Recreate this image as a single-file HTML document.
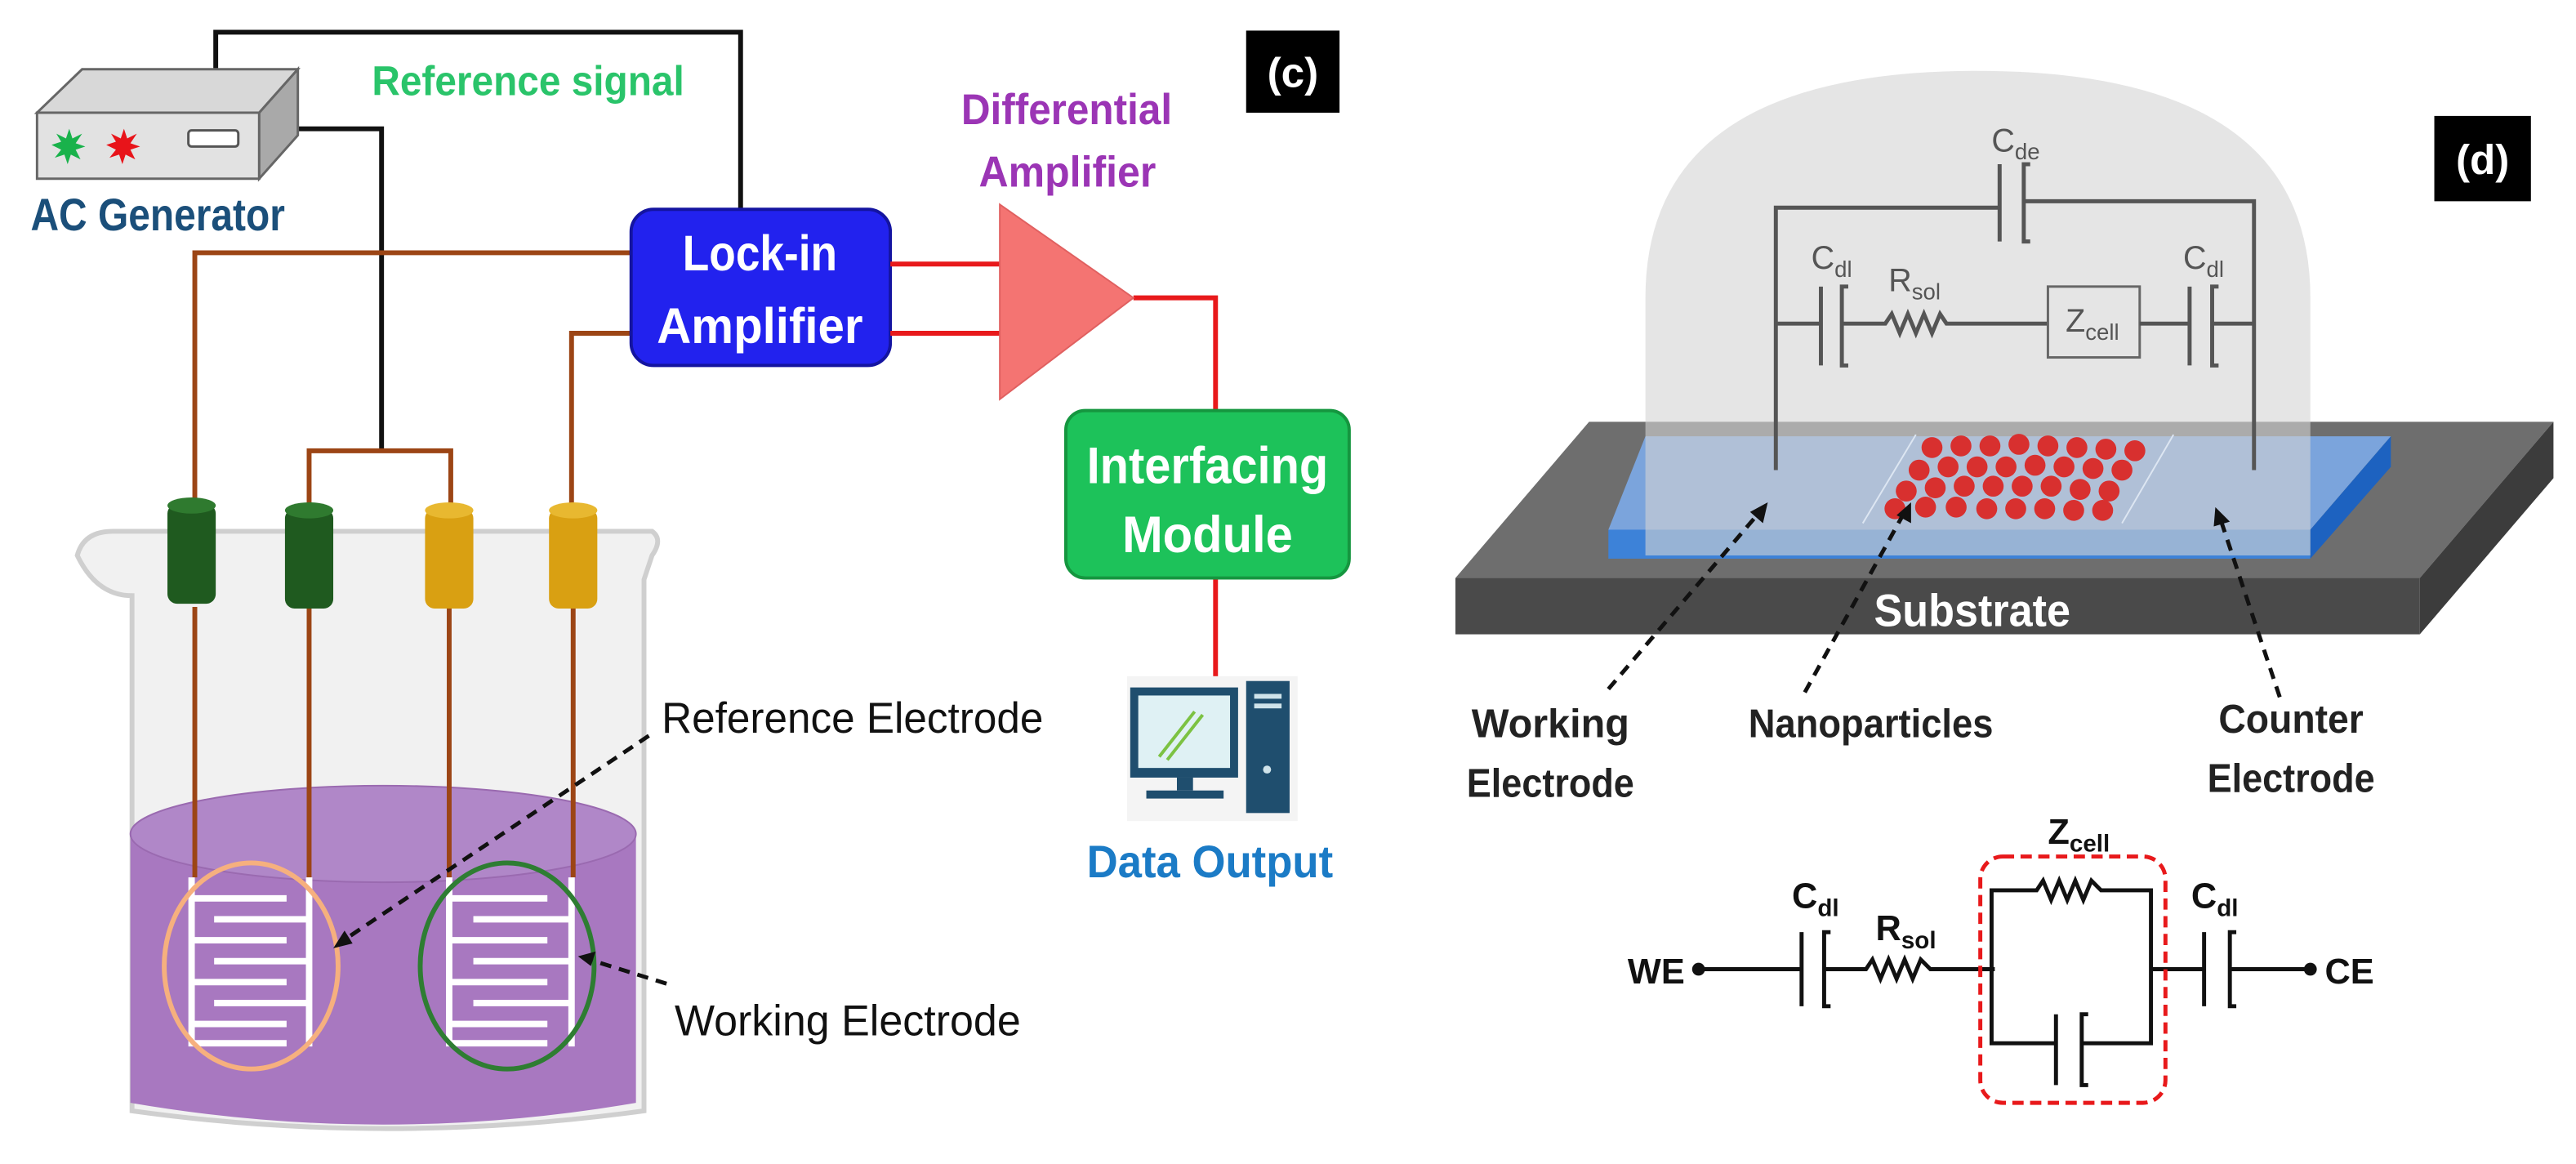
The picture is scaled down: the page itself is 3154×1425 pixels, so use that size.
<!DOCTYPE html>
<html><head><meta charset="utf-8"><style>
html,body{margin:0;padding:0;background:#fff}
svg{display:block}
text{font-family:"Liberation Sans",sans-serif}
</style></head><body>
<svg width="3154" height="1425" viewBox="0 0 1600 723" preserveAspectRatio="none" xmlns="http://www.w3.org/2000/svg">
<rect width="1600" height="723" fill="#fff"/>
<!-- ===== Panel (c) ===== -->
<path d="M48,345 Q52,330 70,330 L405,330 Q412,335 405,345 L400,360 L400,690 Q240,712 82,690 L82,370 Q60,370 48,345Z" fill="#f1f1f1" stroke="#cfcfcf" stroke-width="3"/>
<path d="M81,518 L81,685 Q238,712 395,685 L395,518Z" fill="#a878c0"/>
<ellipse cx="238" cy="518" rx="157" ry="30" fill="#b087c8" stroke="#9a6ab0" stroke-width="1"/>
<g fill="none" stroke-width="3">
<polyline points="134,44 134,20 460,20 460,130" stroke="#111"/>
<polyline points="185,80 237,80 237,280" stroke="#111"/>
<polyline points="392,157 121,157 121,311" stroke="#9c4515"/>
<polyline points="392,207 355,207 355,314" stroke="#9c4515"/>
<polyline points="192,314 192,280 280,280 280,314" stroke="#9c4515"/>
<line x1="121" y1="377" x2="121" y2="545" stroke="#9c4515"/>
<line x1="192" y1="377" x2="192" y2="545" stroke="#9c4515"/>
<line x1="279" y1="377" x2="279" y2="545" stroke="#9c4515"/>
<line x1="356" y1="377" x2="356" y2="545" stroke="#9c4515"/>
</g>
<g>
<rect x="104" y="313" width="30" height="62" rx="6" fill="#1f5a1f"/><ellipse cx="119" cy="314" rx="15" ry="5" fill="#2f7a2f"/>
<rect x="177" y="316" width="30" height="62" rx="6" fill="#1f5a1f"/><ellipse cx="192" cy="317" rx="15" ry="5" fill="#2f7a2f"/>
<rect x="264" y="316" width="30" height="62" rx="6" fill="#d9a012"/><ellipse cx="279" cy="317" rx="15" ry="5" fill="#e8b830"/>
<rect x="341" y="316" width="30" height="62" rx="6" fill="#d9a012"/><ellipse cx="356" cy="317" rx="15" ry="5" fill="#e8b830"/>
</g>
<g fill="none" stroke="#fff" stroke-width="4">
<path d="M119,545 L119,650 M192,545 L192,650 M119,558 H178 M119,584 H178 M119,610 H178 M119,636 H178 M133,571 H192 M133,597 H192 M133,623 H192 M119,648 H178"/>
<path d="M279,545 L279,650 M355,545 L355,650 M279,558 H340 M279,584 H340 M279,610 H340 M279,636 H340 M294,571 H355 M294,597 H355 M294,623 H355 M279,648 H340"/>
</g>
<ellipse cx="156" cy="600" rx="54" ry="64" fill="none" stroke="#f6b07e" stroke-width="3"/>
<ellipse cx="315" cy="600" rx="54" ry="64" fill="none" stroke="#2e7d32" stroke-width="3"/>
<g stroke="#111" stroke-width="2.5" stroke-dasharray="7,5" fill="none">
<line x1="403" y1="457" x2="212" y2="585"/>
<line x1="414" y1="611" x2="366" y2="596"/>
</g>
<polygon points="207,589 214,578 219,586" fill="#111"/>
<polygon points="359,594 370,591 367,600" fill="#111"/>
<text x="411" y="455" font-size="27" fill="#111" textLength="237" lengthAdjust="spacingAndGlyphs">Reference Electrode</text>
<text x="419" y="643" font-size="27" fill="#111" textLength="215" lengthAdjust="spacingAndGlyphs">Working Electrode</text>
<polygon points="23,70 51,43 185,43 161,70" fill="#d8d8d8" stroke="#666" stroke-width="1.5"/>
<rect x="23" y="70" width="138" height="41" fill="#e2e2e2" stroke="#666" stroke-width="1.5"/>
<polygon points="161,70 185,43 185,84 161,111" fill="#a9a9a9" stroke="#666" stroke-width="1.5"/>
<polygon points="43,80 45,86 51,83 47,89 53,91 47,93 50,99 44,96 42,102 40,96 34,98 38,93 32,90 38,88 35,83 41,86" fill="#19b24b"/>
<polygon points="77,80 79,86 85,83 81,89 87,91 81,93 84,99 78,96 76,102 74,96 68,98 72,93 66,90 72,88 69,83 75,86" fill="#e8141a"/>
<rect x="117" y="81" width="31" height="10" rx="2" fill="#fff" stroke="#555" stroke-width="1.5"/>
<text x="19" y="143" font-size="28" font-weight="bold" fill="#1b4f7a" textLength="158" lengthAdjust="spacingAndGlyphs">AC Generator</text>
<text x="231" y="59" font-size="26" font-weight="bold" fill="#2ac46a" textLength="194" lengthAdjust="spacingAndGlyphs">Reference signal</text>
<rect x="774" y="19" width="58" height="51" fill="#000"/>
<text x="803" y="54" font-size="26" font-weight="bold" fill="#fff" text-anchor="middle">(c)</text>
<rect x="392" y="130" width="161" height="97" rx="14" fill="#2222ee" stroke="#1414a0" stroke-width="2"/>
<text x="472" y="168" font-size="31" font-weight="bold" fill="#fff" text-anchor="middle" textLength="96" lengthAdjust="spacingAndGlyphs">Lock-in</text>
<text x="472" y="213" font-size="31" font-weight="bold" fill="#fff" text-anchor="middle" textLength="128" lengthAdjust="spacingAndGlyphs">Amplifier</text>
<g stroke="#e8191b" stroke-width="3" fill="none">
<line x1="553" y1="164" x2="621" y2="164"/>
<line x1="553" y1="207" x2="621" y2="207"/>
<polyline points="704,185 755,185 755,255"/>
<line x1="755" y1="359" x2="755" y2="425"/>
</g>
<polygon points="621,127 704,185 621,248" fill="#f47472" stroke="#e06060" stroke-width="1"/>
<text x="597" y="77" font-size="27" font-weight="bold" fill="#9b35b5" textLength="131" lengthAdjust="spacingAndGlyphs">Differential</text>
<text x="608" y="116" font-size="27" font-weight="bold" fill="#9b35b5" textLength="110" lengthAdjust="spacingAndGlyphs">Amplifier</text>
<rect x="662" y="255" width="176" height="104" rx="12" fill="#1dc25a" stroke="#15963f" stroke-width="2"/>
<text x="750" y="300" font-size="32" font-weight="bold" fill="#fff" text-anchor="middle" textLength="150" lengthAdjust="spacingAndGlyphs">Interfacing</text>
<text x="750" y="343" font-size="32" font-weight="bold" fill="#fff" text-anchor="middle" textLength="106" lengthAdjust="spacingAndGlyphs">Module</text>
<rect x="700" y="420" width="106" height="90" fill="#f4f4f4"/>
<rect x="702" y="427" width="67" height="56" fill="#1f4e6e"/>
<rect x="707" y="432" width="57" height="45" fill="#dff1f4"/>
<line x1="720" y1="470" x2="742" y2="442" stroke="#7cc242" stroke-width="2"/>
<line x1="725" y1="472" x2="747" y2="444" stroke="#7cc242" stroke-width="2"/>
<rect x="731" y="483" width="10" height="8" fill="#1f4e6e"/>
<rect x="712" y="491" width="48" height="5" fill="#1f4e6e"/>
<rect x="774" y="423" width="27" height="82" fill="#1f4e6e"/>
<rect x="779" y="431" width="17" height="3" fill="#cfe3ea"/>
<rect x="779" y="437" width="17" height="3" fill="#cfe3ea"/>
<circle cx="787" cy="478" r="2.5" fill="#cfe3ea"/>
<text x="675" y="545" font-size="28" font-weight="bold" fill="#1b7bc6" textLength="153" lengthAdjust="spacingAndGlyphs">Data Output</text>
<!-- ===== Panel (d) ===== -->
<polygon points="987,262 1586,262 1503,359 904,359" fill="#6e6e6e"/>
<rect x="904" y="359" width="599" height="35" fill="#4a4a4a"/>
<polygon points="1503,359 1586,262 1586,297 1503,394" fill="#3c3c3c"/>
<polygon points="1022,271 1485,271 1435,329 999,329" fill="#7ba4dc"/>
<rect x="999" y="329" width="436" height="18" fill="#3d82d8"/>
<polygon points="1435,329 1485,271 1485,290 1435,347" fill="#1d62c0"/>
<path d="M1022,345 L1022,185 Q1022,44 1228,44 Q1435,44 1435,185 L1435,345Z" fill="#d4d4d4" fill-opacity="0.6"/>
<line x1="1190" y1="270" x2="1157" y2="325" stroke="#dde6f2" stroke-width="1"/>
<line x1="1350" y1="270" x2="1318" y2="325" stroke="#dde6f2" stroke-width="1"/>
<g fill="#d8302f">
<circle cx="1200" cy="278" r="6.5"/><circle cx="1218" cy="277" r="6.5"/><circle cx="1236" cy="277" r="6.5"/><circle cx="1254" cy="276" r="6.5"/><circle cx="1272" cy="277" r="6.5"/><circle cx="1290" cy="278" r="6.5"/><circle cx="1308" cy="279" r="6.5"/><circle cx="1326" cy="280" r="6.5"/>
<circle cx="1192" cy="292" r="6.5"/><circle cx="1210" cy="290" r="6.5"/><circle cx="1228" cy="290" r="6.5"/><circle cx="1246" cy="290" r="6.5"/><circle cx="1264" cy="289" r="6.5"/><circle cx="1282" cy="290" r="6.5"/><circle cx="1300" cy="291" r="6.5"/><circle cx="1318" cy="292" r="6.5"/>
<circle cx="1184" cy="305" r="6.5"/><circle cx="1202" cy="303" r="6.5"/><circle cx="1220" cy="302" r="6.5"/><circle cx="1238" cy="302" r="6.5"/><circle cx="1256" cy="302" r="6.5"/><circle cx="1274" cy="302" r="6.5"/><circle cx="1292" cy="304" r="6.5"/><circle cx="1310" cy="305" r="6.5"/>
<circle cx="1177" cy="316" r="6.5"/><circle cx="1196" cy="315" r="6.5"/><circle cx="1215" cy="315" r="6.5"/><circle cx="1234" cy="316" r="6.5"/><circle cx="1252" cy="316" r="6.5"/><circle cx="1270" cy="316" r="6.5"/><circle cx="1288" cy="317" r="6.5"/><circle cx="1306" cy="317" r="6.5"/>
</g>
<g stroke="#555" stroke-width="2.5" fill="none">
<polyline points="1103,292 1103,129 1242,129"/>
<polyline points="1258,125 1400,125 1400,292"/>
<line x1="1242" y1="102" x2="1242" y2="150"/>
<path d="M1261,102 H1257 V150 H1261"/>
<line x1="1103" y1="201" x2="1131" y2="201"/>
<line x1="1131" y1="178" x2="1131" y2="227"/>
<path d="M1148,178 H1144 V227 H1148"/>
<polyline points="1144,201 1171,201 1175,195 1180,207 1185,195 1190,207 1195,195 1200,207 1205,195 1209,201 1272,201"/>
<rect x="1272" y="178" width="57" height="44" stroke="#666" stroke-width="1.5"/>
<line x1="1329" y1="201" x2="1360" y2="201"/>
<line x1="1360" y1="178" x2="1360" y2="227"/>
<path d="M1378,178 H1374 V227 H1378"/>
<line x1="1374" y1="201" x2="1400" y2="201"/>
</g>
<g fill="#555" font-size="20">
<text x="1237" y="94">C<tspan font-size="14" dy="5">de</tspan></text>
<text x="1125" y="167">C<tspan font-size="14" dy="5">dl</tspan></text>
<text x="1173" y="181">R<tspan font-size="14" dy="5">sol</tspan></text>
<text x="1283" y="206">Z<tspan font-size="14" dy="5">cell</tspan></text>
<text x="1356" y="167">C<tspan font-size="14" dy="5">dl</tspan></text>
</g>
<rect x="1512" y="72" width="60" height="53" fill="#000"/>
<text x="1542" y="108" font-size="26" font-weight="bold" fill="#fff" text-anchor="middle">(d)</text>
<text x="1225" y="389" font-size="28" font-weight="bold" fill="#fff" text-anchor="middle" textLength="122" lengthAdjust="spacingAndGlyphs">Substrate</text>
<g stroke="#111" stroke-width="2.5" stroke-dasharray="7,5" fill="none">
<line x1="999" y1="428" x2="1093" y2="318"/>
<line x1="1121" y1="430" x2="1183" y2="318"/>
<line x1="1416" y1="433" x2="1379" y2="322"/>
</g>
<polygon points="1098,312 1095,325 1087,318" fill="#111"/>
<polygon points="1187,312 1187,325 1178,320" fill="#111"/>
<polygon points="1376,315 1385,324 1375,327" fill="#111"/>
<g font-size="25" font-weight="bold" fill="#222" text-anchor="middle">
<text x="963" y="458" textLength="98" lengthAdjust="spacingAndGlyphs">Working</text>
<text x="963" y="495" textLength="104" lengthAdjust="spacingAndGlyphs">Electrode</text>
<text x="1162" y="458" textLength="152" lengthAdjust="spacingAndGlyphs">Nanoparticles</text>
<text x="1423" y="455" textLength="90" lengthAdjust="spacingAndGlyphs">Counter</text>
<text x="1423" y="492" textLength="104" lengthAdjust="spacingAndGlyphs">Electrode</text>
</g>
<g stroke="#111" stroke-width="2.5" fill="none">
<line x1="1055" y1="602" x2="1119" y2="602"/>
<line x1="1119" y1="579" x2="1119" y2="625"/>
<path d="M1137,579 H1133 V625 H1137"/>
<polyline points="1133,602 1159,602 1163,596 1168,608 1173,596 1178,608 1183,596 1188,608 1193,596 1199,602 1239,602"/>
<polyline points="1237,602 1237,553 1265,553 1269,547 1274,559 1279,547 1284,559 1289,547 1294,559 1299,547 1305,553 1336,553 1336,648 1294,648"/>
<polyline points="1237,602 1237,648 1277,648"/>
<line x1="1277" y1="630" x2="1277" y2="674"/>
<path d="M1297,630 H1293 V674 H1297"/>
<line x1="1336" y1="602" x2="1369" y2="602"/>
<line x1="1369" y1="579" x2="1369" y2="625"/>
<path d="M1389,579 H1385 V625 H1389"/>
<line x1="1385" y1="602" x2="1435" y2="602"/>
</g>
<circle cx="1055" cy="602" r="4" fill="#111"/>
<circle cx="1435" cy="602" r="4" fill="#111"/>
<rect x="1230" y="532" width="115" height="153" rx="14" fill="none" stroke="#e8191b" stroke-width="2.5" stroke-dasharray="7,4"/>
<g font-size="22" font-weight="bold" fill="#111">
<text x="1011" y="611">WE</text>
<text x="1444" y="611">CE</text>
<text x="1113" y="564">C<tspan font-size="15" dy="5">dl</tspan></text>
<text x="1165" y="584">R<tspan font-size="15" dy="5">sol</tspan></text>
<text x="1272" y="524">Z<tspan font-size="15" dy="5">cell</tspan></text>
<text x="1361" y="564">C<tspan font-size="15" dy="5">dl</tspan></text>
</g>
</svg>
</body></html>
